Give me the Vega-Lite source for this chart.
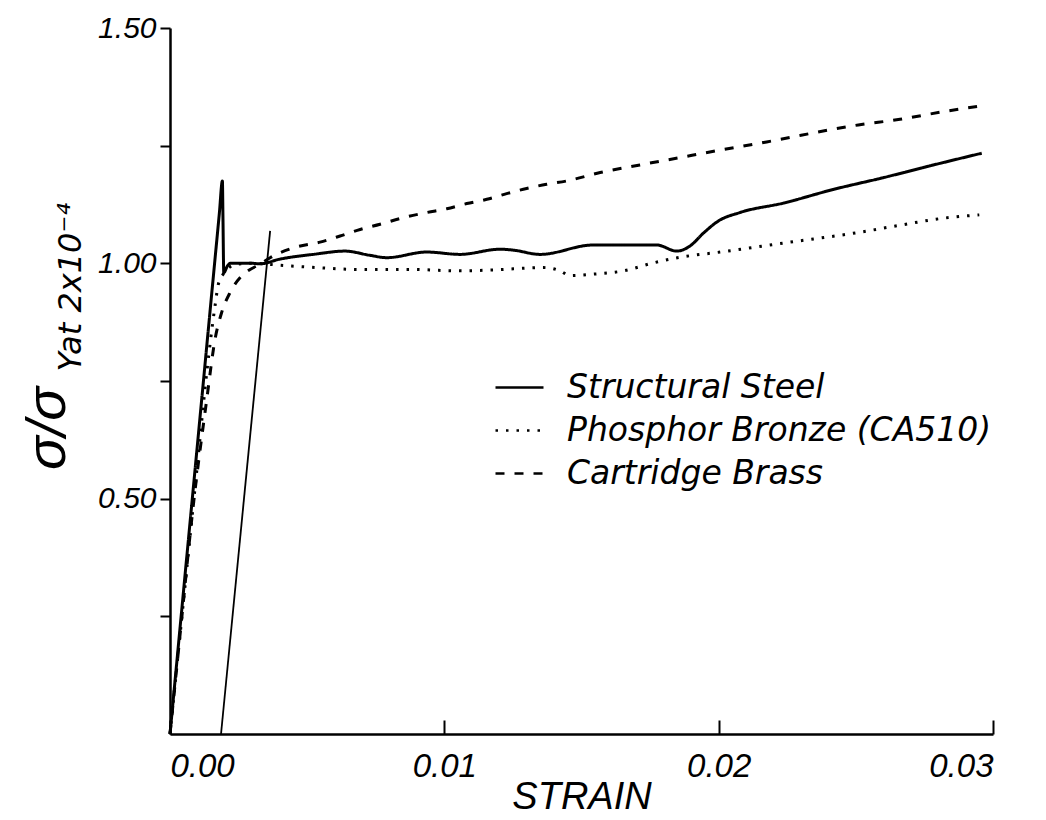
{
  "$schema": "https://vega.github.io/schema/vega-lite/v6.json",
  "width": 823,
  "height": 706,
  "autosize": {"type": "none"},
  "padding": {"left": 170, "top": 28, "right": 53, "bottom": 86},
  "background": "white",
  "config": {
    "view": {"stroke": null},
    "font": "Liberation Sans",
    "axis": {
      "domainColor": "black",
      "domainWidth": 2.5,
      "tickColor": "black",
      "tickWidth": 2,
      "grid": false,
      "labelColor": "black",
      "titleColor": "black",
      "labelFont": "Liberation Sans",
      "titleFont": "Liberation Sans",
      "labelFontStyle": "italic",
      "titleFontStyle": "italic",
      "titleFontWeight": "normal"
    },
    "legend": {"labelColor": "black", "labelFont": "DejaVu Sans"}
  },
  "datasets": {
    "curves": [
      {"material": "Structural Steel", "strain": 0, "ratio": 0},
      {"material": "Structural Steel", "strain": 0.0005, "ratio": 0.308},
      {"material": "Structural Steel", "strain": 0.001, "ratio": 0.615},
      {"material": "Structural Steel", "strain": 0.0015, "ratio": 0.923},
      {"material": "Structural Steel", "strain": 0.0018, "ratio": 1.107},
      {"material": "Structural Steel", "strain": 0.00191, "ratio": 1.175},
      {"material": "Structural Steel", "strain": 0.00193, "ratio": 1.1},
      {"material": "Structural Steel", "strain": 0.00196, "ratio": 0.98},
      {"material": "Structural Steel", "strain": 0.0021, "ratio": 0.995},
      {"material": "Structural Steel", "strain": 0.0022, "ratio": 1.0},
      {"material": "Structural Steel", "strain": 0.003, "ratio": 1.0},
      {"material": "Structural Steel", "strain": 0.00328, "ratio": 0.999},
      {"material": "Structural Steel", "strain": 0.00401, "ratio": 1.009},
      {"material": "Structural Steel", "strain": 0.00522, "ratio": 1.019},
      {"material": "Structural Steel", "strain": 0.00638, "ratio": 1.026},
      {"material": "Structural Steel", "strain": 0.00729, "ratio": 1.017},
      {"material": "Structural Steel", "strain": 0.0079, "ratio": 1.012},
      {"material": "Structural Steel", "strain": 0.00936, "ratio": 1.024},
      {"material": "Structural Steel", "strain": 0.01057, "ratio": 1.019},
      {"material": "Structural Steel", "strain": 0.01203, "ratio": 1.03},
      {"material": "Structural Steel", "strain": 0.01252, "ratio": 1.028},
      {"material": "Structural Steel", "strain": 0.01349, "ratio": 1.019},
      {"material": "Structural Steel", "strain": 0.01543, "ratio": 1.039},
      {"material": "Structural Steel", "strain": 0.01774, "ratio": 1.039},
      {"material": "Structural Steel", "strain": 0.01847, "ratio": 1.026},
      {"material": "Structural Steel", "strain": 0.01896, "ratio": 1.037},
      {"material": "Structural Steel", "strain": 0.01944, "ratio": 1.064},
      {"material": "Structural Steel", "strain": 0.01999, "ratio": 1.09},
      {"material": "Structural Steel", "strain": 0.02078, "ratio": 1.108},
      {"material": "Structural Steel", "strain": 0.02236, "ratio": 1.128},
      {"material": "Structural Steel", "strain": 0.02418, "ratio": 1.157},
      {"material": "Structural Steel", "strain": 0.026, "ratio": 1.182},
      {"material": "Structural Steel", "strain": 0.02783, "ratio": 1.209},
      {"material": "Structural Steel", "strain": 0.02959, "ratio": 1.234},

      {"material": "Phosphor Bronze (CA510)", "strain": 0, "ratio": 0},
      {"material": "Phosphor Bronze (CA510)", "strain": 0.0005, "ratio": 0.287},
      {"material": "Phosphor Bronze (CA510)", "strain": 0.001, "ratio": 0.573},
      {"material": "Phosphor Bronze (CA510)", "strain": 0.00134, "ratio": 0.768},
      {"material": "Phosphor Bronze (CA510)", "strain": 0.00164, "ratio": 0.909},
      {"material": "Phosphor Bronze (CA510)", "strain": 0.00176, "ratio": 0.955},
      {"material": "Phosphor Bronze (CA510)", "strain": 0.00194, "ratio": 0.977},
      {"material": "Phosphor Bronze (CA510)", "strain": 0.00243, "ratio": 0.998},
      {"material": "Phosphor Bronze (CA510)", "strain": 0.003, "ratio": 1.0},
      {"material": "Phosphor Bronze (CA510)", "strain": 0.00401, "ratio": 0.996},
      {"material": "Phosphor Bronze (CA510)", "strain": 0.00535, "ratio": 0.991},
      {"material": "Phosphor Bronze (CA510)", "strain": 0.00693, "ratio": 0.987},
      {"material": "Phosphor Bronze (CA510)", "strain": 0.00875, "ratio": 0.987},
      {"material": "Phosphor Bronze (CA510)", "strain": 0.01057, "ratio": 0.984},
      {"material": "Phosphor Bronze (CA510)", "strain": 0.01179, "ratio": 0.986},
      {"material": "Phosphor Bronze (CA510)", "strain": 0.01361, "ratio": 0.991},
      {"material": "Phosphor Bronze (CA510)", "strain": 0.01422, "ratio": 0.984},
      {"material": "Phosphor Bronze (CA510)", "strain": 0.01458, "ratio": 0.974},
      {"material": "Phosphor Bronze (CA510)", "strain": 0.01543, "ratio": 0.977},
      {"material": "Phosphor Bronze (CA510)", "strain": 0.01653, "ratio": 0.984},
      {"material": "Phosphor Bronze (CA510)", "strain": 0.01762, "ratio": 1.001},
      {"material": "Phosphor Bronze (CA510)", "strain": 0.01871, "ratio": 1.014},
      {"material": "Phosphor Bronze (CA510)", "strain": 0.01993, "ratio": 1.023},
      {"material": "Phosphor Bronze (CA510)", "strain": 0.0226, "ratio": 1.045},
      {"material": "Phosphor Bronze (CA510)", "strain": 0.02503, "ratio": 1.065},
      {"material": "Phosphor Bronze (CA510)", "strain": 0.02661, "ratio": 1.081},
      {"material": "Phosphor Bronze (CA510)", "strain": 0.02807, "ratio": 1.095},
      {"material": "Phosphor Bronze (CA510)", "strain": 0.0295, "ratio": 1.103},

      {"material": "Cartridge Brass", "strain": 0, "ratio": 0},
      {"material": "Cartridge Brass", "strain": 0.0004, "ratio": 0.23},
      {"material": "Cartridge Brass", "strain": 0.0008, "ratio": 0.46},
      {"material": "Cartridge Brass", "strain": 0.00134, "ratio": 0.711},
      {"material": "Cartridge Brass", "strain": 0.00164, "ratio": 0.838},
      {"material": "Cartridge Brass", "strain": 0.00188, "ratio": 0.895},
      {"material": "Cartridge Brass", "strain": 0.00219, "ratio": 0.938},
      {"material": "Cartridge Brass", "strain": 0.00261, "ratio": 0.973},
      {"material": "Cartridge Brass", "strain": 0.00292, "ratio": 0.987},
      {"material": "Cartridge Brass", "strain": 0.00328, "ratio": 0.998},
      {"material": "Cartridge Brass", "strain": 0.00365, "ratio": 1.012},
      {"material": "Cartridge Brass", "strain": 0.0045, "ratio": 1.033},
      {"material": "Cartridge Brass", "strain": 0.00547, "ratio": 1.045},
      {"material": "Cartridge Brass", "strain": 0.0062, "ratio": 1.058},
      {"material": "Cartridge Brass", "strain": 0.00693, "ratio": 1.072},
      {"material": "Cartridge Brass", "strain": 0.00766, "ratio": 1.083},
      {"material": "Cartridge Brass", "strain": 0.0085, "ratio": 1.097},
      {"material": "Cartridge Brass", "strain": 0.00936, "ratio": 1.108},
      {"material": "Cartridge Brass", "strain": 0.01009, "ratio": 1.116},
      {"material": "Cartridge Brass", "strain": 0.01082, "ratio": 1.127},
      {"material": "Cartridge Brass", "strain": 0.01155, "ratio": 1.136},
      {"material": "Cartridge Brass", "strain": 0.01227, "ratio": 1.148},
      {"material": "Cartridge Brass", "strain": 0.013, "ratio": 1.159},
      {"material": "Cartridge Brass", "strain": 0.01373, "ratio": 1.168},
      {"material": "Cartridge Brass", "strain": 0.01446, "ratio": 1.175},
      {"material": "Cartridge Brass", "strain": 0.01568, "ratio": 1.193},
      {"material": "Cartridge Brass", "strain": 0.01713, "ratio": 1.209},
      {"material": "Cartridge Brass", "strain": 0.01871, "ratio": 1.226},
      {"material": "Cartridge Brass", "strain": 0.01944, "ratio": 1.234},
      {"material": "Cartridge Brass", "strain": 0.02175, "ratio": 1.258},
      {"material": "Cartridge Brass", "strain": 0.02509, "ratio": 1.294},
      {"material": "Cartridge Brass", "strain": 0.02661, "ratio": 1.306},
      {"material": "Cartridge Brass", "strain": 0.02807, "ratio": 1.321},
      {"material": "Cartridge Brass", "strain": 0.02971, "ratio": 1.336}
    ],
    "offset": [
      {"strain": 0.00186, "ratio": 0},
      {"strain": 0.00365, "ratio": 1.069}
    ]
  },
  "layer": [
    {
      "data": {"name": "curves"},
      "mark": {"type": "line", "color": "black", "strokeWidth": 3, "interpolate": "monotone"},
      "encoding": {
        "x": {
          "field": "strain",
          "type": "quantitative",
          "scale": {"domain": [0, 0.03], "nice": false},
          "axis": {
            "values": [0, 0.01, 0.02, 0.03],
            "format": ".2f",
            "tickSize": -14,
            "labelPadding": 30,
            "labelFontSize": 33,
            "title": "STRAIN",
            "titleFontSize": 38,
            "titleY": 74,
            "titleBaseline": "alphabetic"
          }
        },
        "y": {
          "field": "ratio",
          "type": "quantitative",
          "scale": {"domain": [0, 1.5], "nice": false},
          "axis": {
            "values": [0.25, 0.5, 0.75, 1, 1.25, 1.5],
            "labelExpr": "datum.value == 0.5 || datum.value == 1 || datum.value == 1.5 ? format(datum.value, '.2f') : ''",
            "tickSize": 10,
            "labelPadding": 4,
            "labelFontSize": 30,
            "title": "σ/σ",
            "titleFontSize": 56,
            "titleAngle": -90,
            "titleX": -106,
            "titleY": 400,
            "titleAlign": "center",
            "titleBaseline": "alphabetic"
          }
        },
        "strokeDash": {
          "field": "material",
          "type": "nominal",
          "scale": {
            "domain": ["Structural Steel", "Phosphor Bronze (CA510)", "Cartridge Brass"],
            "range": [[1, 0], [2.5, 8], [9, 10]]
          },
          "legend": {
            "orient": "none",
            "legendX": 324,
            "legendY": 334,
            "title": null,
            "symbolType": "stroke",
            "symbolSize": 2304,
            "symbolStrokeWidth": 2.5,
            "symbolStrokeColor": "black",
            "labelFontSize": 33,
            "labelFontStyle": "italic",
            "labelOffset": 22,
            "rowPadding": 0,
            "labelLimit": 600
          }
        }
      }
    },
    {
      "data": {"name": "offset"},
      "mark": {"type": "line", "color": "black", "strokeWidth": 1.8},
      "encoding": {
        "x": {"field": "strain", "type": "quantitative"},
        "y": {
          "field": "ratio",
          "type": "quantitative",
          "axis": {
            "orient": "left",
            "labels": false,
            "ticks": false,
            "domain": false,
            "title": "Yat 2x10⁻⁴",
            "titleFont": "DejaVu Sans",
            "titleFontSize": 32,
            "titleAngle": -90,
            "titleX": -90,
            "titleY": 343,
            "titleAlign": "left",
            "titleBaseline": "alphabetic"
          }
        }
      }
    }
  ],
  "resolve": {"axis": {"y": "independent"}}
}
